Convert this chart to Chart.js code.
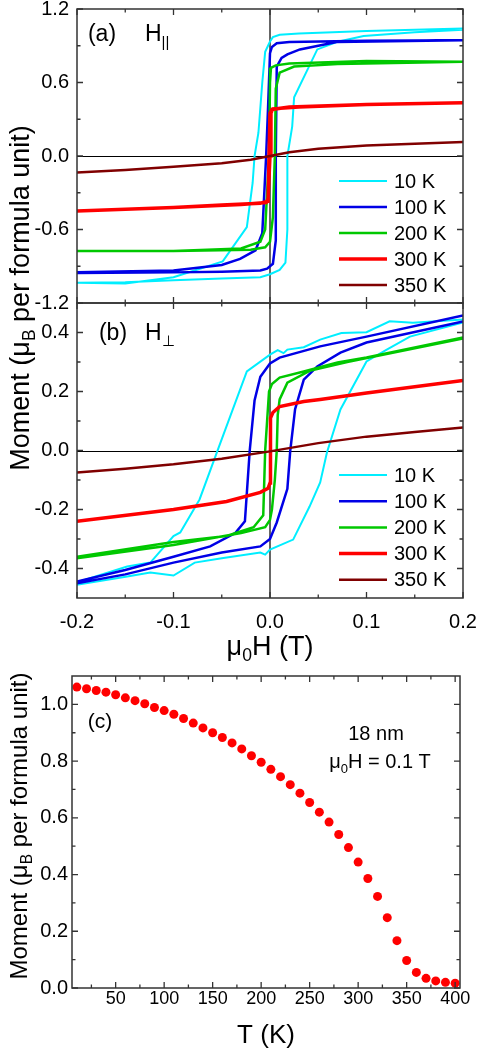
<!DOCTYPE html>
<html>
<head>
<meta charset="utf-8">
<script src="https://cdn.jsdelivr.net/npm/chart.js@4.4.1/dist/chart.umd.min.js"></script>
<style>
  body { margin: 0; background: #fff; }
  #wrap { position: relative; width: 477px; height: 1050px; }
  #wrap canvas { position: absolute; left: 0; top: 0; }
</style>
</head>
<body>
<div id="wrap">
  <canvas id="chartA" width="477" height="1050"></canvas>
  <canvas id="chartB" width="477" height="1050"></canvas>
  <canvas id="chartC" width="477" height="1050"></canvas>
</div>
<script>
// ---- data ----
const temps = ['10 K', '100 K', '200 K', '300 K', '350 K'];
const colors = ['rgb(0,238,255)', 'rgb(0,0,230)', 'rgb(0,200,0)', 'rgb(255,0,0)', 'rgb(128,0,0)'];
const widths = [2, 2.5, 2.5, 3.5, 2.5];

// ticks
const xTicksH = [-0.2, -0.1, 0.0, 0.1, 0.2];
const xMinorH = [-0.15, -0.05, 0.05, 0.15];
const yTicksA = [-1.2, -0.6, 0.0, 0.6, 1.2];
const yMinorA = [-0.9, -0.3, 0.3, 0.9];
const yTicksB = [-0.4, -0.2, 0.0, 0.2, 0.4];
const yMinorB = [-0.3, -0.1, 0.1, 0.3];
const xTicksC = [50, 100, 150, 200, 250, 300, 350, 400];
const xMinorC = [25, 75, 125, 175, 225, 275, 325, 375];
const yTicksC = [0.0, 0.2, 0.4, 0.6, 0.8, 1.0];
const yMinorC = [0.1, 0.3, 0.5, 0.7, 0.9];

// (a) H parallel — descending branch (down) then ascending branch (up)
const a10H_down = [0.2, 0.1, 0.03, 0.01, 0.003, 0, -0.005, -0.008, -0.012, -0.016, -0.018, -0.024, -0.049, -0.1, -0.15, -0.2];
const a10M_down = [1.04, 1.02, 1.0, 0.99, 0.97, 0.935, 0.85, 0.6, 0.19, 0, -0.22, -0.58, -0.86, -0.99, -1.04, -1.035];
const a10H_up = [-0.2, -0.15, -0.1, -0.05, -0.01, 0, 0.01, 0.016, 0.018, 0.018, 0.023, 0.025, 0.049, 0.069, 0.097, 0.15, 0.2];
const a10M_up = [-1.035, -1.03, -1.015, -1.0, -0.99, -0.965, -0.93, -0.87, -0.6, 0, 0.24, 0.48, 0.87, 0.93, 0.98, 1.01, 1.03];

const a100H_down = [0.2, 0.1, 0.02, 0.007, 0.002, 0, -0.002, -0.004, -0.008, -0.015, -0.031, -0.05, -0.1, -0.2];
const a100M_down = [0.945, 0.94, 0.93, 0.92, 0.89, 0.84, 0.4, 0, -0.63, -0.77, -0.84, -0.89, -0.935, -0.95];
const a100H_up = [-0.2, -0.1, -0.05, -0.01, -0.003, 0.003, 0.006, 0.006, 0.007, 0.012, 0.018, 0.031, 0.069, 0.2];
const a100M_up = [-0.955, -0.95, -0.945, -0.935, -0.92, -0.88, -0.69, 0, 0.73, 0.8, 0.83, 0.87, 0.93, 0.945];

const a200H_down = [0.2, 0.1, 0.02, 0.006, 0.001, 0, -0.001, -0.005, -0.01, -0.03, -0.1, -0.2];
const a200M_down = [0.77, 0.775, 0.755, 0.74, 0.72, 0.6, 0, -0.6, -0.7, -0.755, -0.775, -0.775];
const a200H_up = [-0.2, -0.1, -0.02, -0.005, 0, 0.003, 0.005, 0.006, 0.01, 0.025, 0.07, 0.2];
const a200M_up = [-0.775, -0.775, -0.765, -0.745, -0.7, -0.5, 0, 0.55, 0.68, 0.73, 0.75, 0.77];

const a300H_down = [0.2, 0.1, 0.02, 0.002, 0, -0.001, -0.002, -0.01, -0.05, -0.1, -0.2];
const a300M_down = [0.435, 0.42, 0.40, 0.38, 0.35, 0, -0.37, -0.385, -0.40, -0.42, -0.45];
const a300H_up = [-0.2, -0.1, -0.03, -0.004, -0.002, 0, 0.001, 0.003, 0.03, 0.1, 0.2];
const a300M_up = [-0.45, -0.42, -0.395, -0.38, -0.35, 0, 0.35, 0.385, 0.40, 0.42, 0.435];

const a350H = [-0.2, -0.15, -0.1, -0.05, -0.02, 0, 0.02, 0.05, 0.1, 0.15, 0.2];
const a350M = [-0.134, -0.115, -0.088, -0.06, -0.03, 0, 0.03, 0.06, 0.085, 0.1, 0.115];

// (b) H perpendicular
const b10H_down = [0.2, 0.148, 0.124, 0.1, 0.074, 0.052, 0.035, 0.018, 0.014, 0.008, 0, -0.024, -0.054, -0.073, -0.093, -0.1, -0.124, -0.148, -0.2];
const b10M_down = [0.444, 0.433, 0.438, 0.401, 0.398, 0.376, 0.35, 0.342, 0.33, 0.34, 0.325, 0.268, 0.003, -0.166, -0.278, -0.29, -0.38, -0.393, -0.447];
const b10H_up = [-0.2, -0.148, -0.124, -0.1, -0.078, -0.05, -0.01, -0.005, 0, 0.024, 0.041, 0.052, 0.059, 0.073, 0.1, 0.121, 0.145, 0.2];
const b10M_up = [-0.455, -0.427, -0.414, -0.424, -0.38, -0.365, -0.346, -0.353, -0.336, -0.302, -0.19, -0.108, -0.007, 0.139, 0.302, 0.342, 0.386, 0.434];

const b100H_down = [0.2, 0.1, 0.052, 0.01, 0, -0.01, -0.016, -0.021, -0.026, -0.036, -0.062, -0.1, -0.15, -0.2];
const b100M_down = [0.458, 0.386, 0.353, 0.315, 0.295, 0.25, 0.17, 0, -0.24, -0.28, -0.325, -0.36, -0.405, -0.444];
const b100H_up = [-0.2, -0.15, -0.1, -0.05, -0.01, 0, 0.007, 0.018, 0.021, 0.026, 0.035, 0.049, 0.073, 0.1, 0.2];
const b100M_up = [-0.45, -0.42, -0.38, -0.346, -0.325, -0.3, -0.244, -0.13, 0, 0.14, 0.24, 0.285, 0.332, 0.366, 0.437];

const b200H_down = [0.2, 0.1, 0.07, 0.035, 0.01, 0.002, -0.001, -0.003, -0.005, -0.007, -0.017, -0.045, -0.1, -0.2];
const b200M_down = [0.383, 0.315, 0.298, 0.268, 0.247, 0.225, 0.2, 0.1, 0, -0.22, -0.26, -0.29, -0.31, -0.36];
const b200H_up = [-0.2, -0.1, -0.03, -0.005, 0, 0.002, 0.005, 0.007, 0.008, 0.01, 0.018, 0.041, 0.08, 0.2];
const b200M_up = [-0.365, -0.32, -0.28, -0.26, -0.235, -0.2, -0.1, 0, 0.12, 0.173, 0.23, 0.27, 0.3, 0.38];

const b300H = [-0.2, -0.1, -0.045, -0.01, -0.002, 0, 0, 0.001, 0.003, 0.01, 0.035, 0.052, 0.1, 0.2];
const b300M = [-0.24, -0.2, -0.173, -0.142, -0.128, -0.11, 0, 0.11, 0.129, 0.149, 0.166, 0.173, 0.195, 0.237];

const b350H = [-0.2, -0.15, -0.1, -0.05, 0, 0.05, 0.1, 0.15, 0.2];
const b350M = [-0.075, -0.062, -0.047, -0.028, -0.003, 0.025, 0.047, 0.063, 0.078];

// (c) moment vs temperature, 18 nm, 0.1 T
const tempC = [10, 20, 30, 40, 50, 60, 70, 80, 90, 100, 110, 120, 130, 140, 150, 160, 170, 180, 190, 200,
  210, 220, 230, 240, 250, 260, 270, 280, 290, 300, 310, 320, 330, 340, 350, 360, 370, 380, 390, 400];
const momentC = [1.061, 1.055, 1.049, 1.043, 1.034, 1.023, 1.013, 1.002, 0.989, 0.978, 0.965, 0.950, 0.934, 0.917, 0.900,
  0.883, 0.864, 0.843, 0.819, 0.796, 0.771, 0.745, 0.717, 0.687, 0.654, 0.620, 0.585, 0.541, 0.495, 0.444,
  0.386, 0.323, 0.248, 0.167, 0.097, 0.055, 0.034, 0.025, 0.020, 0.017];

// ---- helpers ----
const FONT = '"Liberation Sans", Arial, sans-serif';
Chart.defaults.font.family = FONT;
Chart.defaults.color = '#000';

function pts(xs, ys) { return xs.map((x, i) => ({ x: x, y: ys[i] })); }

function lineSet(i, data) {
  return {
    label: temps[i], data: data, showLine: true, pointRadius: 0,
    borderColor: colors[i], backgroundColor: colors[i], borderWidth: widths[i],
    tension: 0, order: 5 - i
  };
}

function drawRich(ctx, parts, x, y, size, align, rot) {
  ctx.save();
  ctx.translate(x, y);
  ctx.rotate(rot || 0);
  ctx.fillStyle = '#000';
  ctx.textBaseline = 'alphabetic';
  ctx.textAlign = 'left';
  let w = 0;
  parts.forEach(p => {
    ctx.font = (p.sub ? size * 0.65 : size) + 'px ' + FONT;
    p.w = ctx.measureText(p.t).width;
    w += p.w;
  });
  let cx = align === 'left' ? 0 : -w / 2;
  const base = size * 0.36;
  parts.forEach(p => {
    ctx.font = (p.sub ? size * 0.65 : size) + 'px ' + FONT;
    ctx.fillText(p.t, cx, base + (p.sub ? size * 0.24 : 0));
    cx += p.w;
  });
  ctx.restore();
}

// box, inward ticks, zero lines, legend, text
function decor(cfg) {
  return {
    id: 'decor',
    beforeDatasetsDraw(chart) {
      if (!cfg.zero) return;
      const { ctx, chartArea: a, scales: { x, y } } = chart;
      ctx.save();
      ctx.strokeStyle = '#000';
      ctx.lineWidth = 1;
      const y0 = Math.round(y.getPixelForValue(0)) + 0.5;
      ctx.beginPath(); ctx.moveTo(a.left, y0); ctx.lineTo(a.right, y0); ctx.stroke();
      ctx.strokeStyle = '#333';
      ctx.lineWidth = 1.5;
      const x0 = x.getPixelForValue(0);
      ctx.beginPath(); ctx.moveTo(x0, a.top); ctx.lineTo(x0, a.bottom); ctx.stroke();
      ctx.restore();
    },
    afterDatasetsDraw(chart) {
      const { ctx, chartArea: a, scales: { x, y } } = chart;
      ctx.save();
      ctx.strokeStyle = '#333';
      ctx.lineWidth = 1.3;
      ctx.beginPath();
      const tx = (vals, len) => vals.forEach(v => {
        const p = x.getPixelForValue(v);
        ctx.moveTo(p, a.bottom); ctx.lineTo(p, a.bottom - len);
        ctx.moveTo(p, a.top); ctx.lineTo(p, a.top + len);
      });
      const ty = (vals, len) => vals.forEach(v => {
        const p = y.getPixelForValue(v);
        ctx.moveTo(a.left, p); ctx.lineTo(a.left + len, p);
        ctx.moveTo(a.right, p); ctx.lineTo(a.right - len, p);
      });
      tx(cfg.xMajor, 6); tx(cfg.xMinor, 3.5);
      ty(cfg.yMajor, 6); ty(cfg.yMinor, 3.5);
      ctx.stroke();
      ctx.lineWidth = 1.5;
      ctx.strokeRect(a.left, a.top, a.right - a.left, a.bottom - a.top);

      if (cfg.legend) {
        const L = cfg.legend;
        chart.data.datasets.forEach((ds, i) => {
          const yy = L.y0 + i * L.dy;
          ctx.strokeStyle = ds.borderColor;
          ctx.lineWidth = ds.borderWidth;
          ctx.beginPath(); ctx.moveTo(L.x1, yy); ctx.lineTo(L.x2, yy); ctx.stroke();
          ctx.fillStyle = '#000';
          ctx.font = '20px ' + FONT;
          ctx.textBaseline = 'middle';
          ctx.textAlign = 'left';
          ctx.fillText(ds.label, L.tx, yy + 1);
        });
      }
      ctx.restore();
      (cfg.texts || []).forEach(t => drawRich(ctx, t.parts, t.x, t.y, t.size, t.align, t.rot));
    }
  };
}

function yAxis(min, max, ticks, width, pad, size) {
  return {
    type: 'linear', min: min, max: max,
    grid: { display: false, drawTicks: false }, border: { display: false },
    afterFit: s => { s.width = width; s.paddingTop = 0; s.paddingBottom = 0; },
    afterBuildTicks: s => { s.ticks = ticks.map(v => ({ value: v })); },
    ticks: { font: { size: size }, padding: pad, callback: v => v.toFixed(1) }
  };
}

function xAxis(min, max, ticks, pad, size, fmt) {
  return {
    type: 'linear', position: 'bottom', min: min, max: max,
    grid: { display: false, drawTicks: false }, border: { display: false },
    afterFit: s => { s.height = 62; s.paddingLeft = 0; s.paddingRight = 0; },
    afterBuildTicks: s => { s.ticks = ticks.map(v => ({ value: v })); },
    ticks: { font: { size: size }, padding: pad, maxRotation: 0, autoSkip: false, callback: fmt }
  };
}

const common = {
  responsive: false, animation: false, devicePixelRatio: 1,
  plugins: { legend: { display: false }, tooltip: { enabled: false } }
};

// ---- panel (a) ----
new Chart(document.getElementById('chartA'), {
  type: 'scatter',
  data: {
    datasets: [
      lineSet(0, pts(a10H_down, a10M_down).concat(pts(a10H_up, a10M_up))),
      lineSet(1, pts(a100H_down, a100M_down).concat(pts(a100H_up, a100M_up))),
      lineSet(2, pts(a200H_down, a200M_down).concat(pts(a200H_up, a200M_up))),
      lineSet(3, pts(a300H_down, a300M_down).concat(pts(a300H_up, a300M_up))),
      lineSet(4, pts(a350H, a350M))
    ]
  },
  options: Object.assign({}, common, {
    layout: { padding: { left: 0, right: 14, top: 9, bottom: 747 } },
    scales: {
      x: { type: 'linear', min: -0.2, max: 0.2, display: false },
      y: yAxis(-1.2, 1.2, yTicksA, 77, 8, 20)
    }
  }),
  plugins: [decor({
    zero: true, xMajor: xTicksH, xMinor: xMinorH, yMajor: yTicksA, yMinor: yMinorA,
    legend: { x1: 339, x2: 387, tx: 394, y0: 181, dy: 26 },
    texts: [
      { parts: [{ t: 'Moment (μ' }, { t: 'B', sub: 1 }, { t: ' per formula unit)' }], x: 19, y: 298, size: 27, rot: -Math.PI / 2 },
      { parts: [{ t: '(a)' }], x: 102, y: 33, size: 23 },
      { parts: [{ t: 'H' }, { t: '||', sub: 1 }], x: 145, y: 33, size: 23, align: 'left' }
    ]
  })]
});

// ---- panel (b) ----
new Chart(document.getElementById('chartB'), {
  type: 'scatter',
  data: {
    datasets: [
      lineSet(0, pts(b10H_down, b10M_down).concat(pts(b10H_up, b10M_up))),
      lineSet(1, pts(b100H_down, b100M_down).concat(pts(b100H_up, b100M_up))),
      lineSet(2, pts(b200H_down, b200M_down).concat(pts(b200H_up, b200M_up))),
      lineSet(3, pts(b300H, b300M)),
      lineSet(4, pts(b350H, b350M))
    ]
  },
  options: Object.assign({}, common, {
    layout: { padding: { left: 0, right: 14, top: 303, bottom: 390 } },
    scales: {
      x: xAxis(-0.2, 0.2, xTicksH, 12, 20, v => v.toFixed(1)),
      y: yAxis(-0.5, 0.5, yTicksB, 77, 8, 20)
    }
  }),
  plugins: [decor({
    zero: true, xMajor: xTicksH, xMinor: xMinorH, yMajor: yTicksB, yMinor: yMinorB,
    legend: { x1: 339, x2: 387, tx: 394, y0: 475, dy: 26.2 },
    texts: [
      { parts: [{ t: 'μ' }, { t: '0', sub: 1 }, { t: 'H (T)' }], x: 270, y: 645, size: 27 },
      { parts: [{ t: '(b)' }], x: 113, y: 332, size: 23 },
      { parts: [{ t: 'H' }, { t: '⊥', sub: 1 }], x: 145, y: 332, size: 23, align: 'left' }
    ]
  })]
});

// ---- panel (c) ----
new Chart(document.getElementById('chartC'), {
  type: 'scatter',
  data: {
    datasets: [{
      label: '18 nm', data: pts(tempC, momentC),
      pointRadius: 4.5, pointBackgroundColor: 'rgb(255,0,0)', pointBorderWidth: 0,
      backgroundColor: 'rgb(255,0,0)', borderColor: 'rgb(255,0,0)', showLine: false
    }]
  },
  options: Object.assign({}, common, {
    layout: { padding: { left: 0, right: 17, top: 676, bottom: 0 } },
    scales: {
      x: xAxis(5, 405, xTicksC, 0, 18, v => String(v)),
      y: yAxis(0, 1.1, yTicksC, 72, 4, 20)
    }
  }),
  plugins: [decor({
    zero: false, xMajor: xTicksC, xMinor: xMinorC, yMajor: yTicksC, yMinor: yMinorC,
    texts: [
      { parts: [{ t: 'Moment (μ' }, { t: 'B', sub: 1 }, { t: ' per formula unit)' }], x: 18, y: 826, size: 24, rot: -Math.PI / 2 },
      { parts: [{ t: 'T (K)' }], x: 266, y: 1034, size: 26 },
      { parts: [{ t: '(c)' }], x: 100, y: 720, size: 21 },
      { parts: [{ t: '18 nm' }], x: 376, y: 733, size: 20 },
      { parts: [{ t: 'μ' }, { t: '0', sub: 1 }, { t: 'H = 0.1 T' }], x: 380, y: 761, size: 20 }
    ]
  })]
});
</script>
</body>
</html>
